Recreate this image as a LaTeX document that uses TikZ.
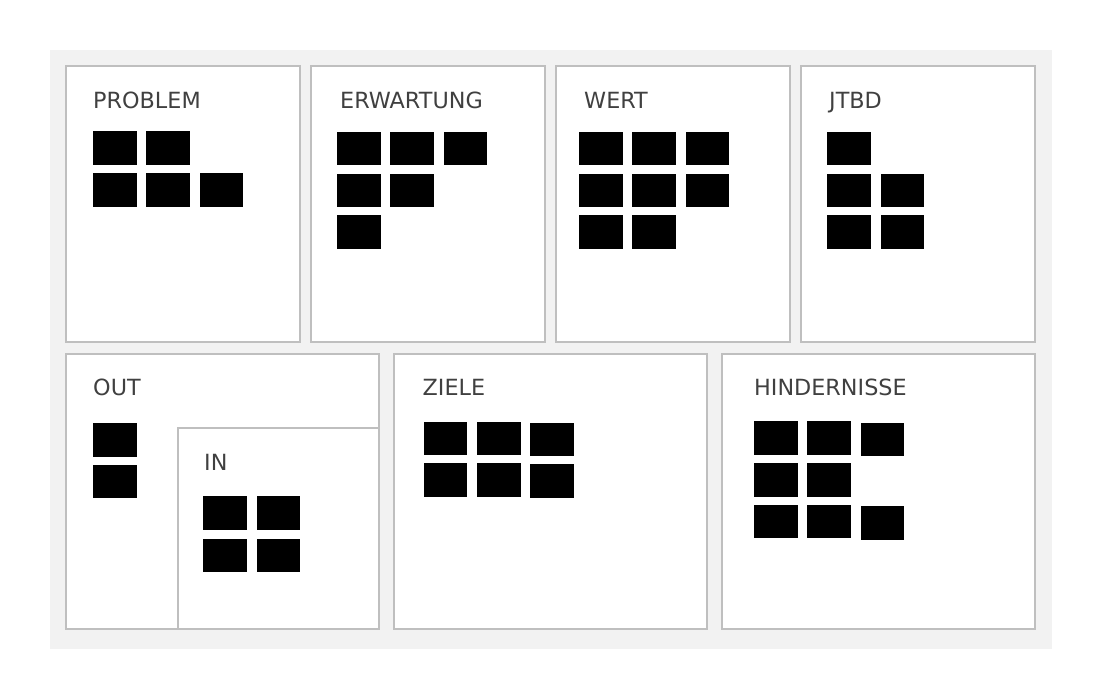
\documentclass[tikz,border=0pt]{standalone}
\usepackage{fontspec}
\setmainfont{DejaVu Sans}
\begin{document}
\begin{tikzpicture}[x=1pt,y=-1pt,
  panel/.style={draw=black!25,line width=1.4pt,fill=white},
  lbl/.style={anchor=base west,inner sep=0pt,text=black!75,font=\fontsize{22.3}{24}\selectfont},
  sq/.style={anchor=north west,fill=black,draw=none,inner sep=0pt,minimum width=43.5pt,minimum height=33.5pt}]
\useasboundingbox (0,0) rectangle (1104,700);
\fill[white] (0,0) rectangle (1104,700);
\fill[black!5] (50,50) rectangle (1052,649);
% top row panels
\draw[panel] (66,66) rectangle (300,342);
\draw[panel] (311,66) rectangle (545,342);
\draw[panel] (556,66) rectangle (790,342);
\draw[panel] (801,66) rectangle (1035,342);
% bottom row panels
\draw[panel] (66,354) rectangle (379,629);
\draw[panel] (178,428) rectangle (379,629);
\draw[panel] (394,354) rectangle (707,629);
\draw[panel] (722,354) rectangle (1035,629);
% labels
\node[lbl] (lp) at (93,108.3) {PROBLEM};
\node[lbl] (le) at (340,108.3) {ERWARTUNG};
\node[lbl] (lw) at (584,108.3) {WERT};
\node[lbl] (lj) at (829,108.3) {JTBD};
\node[lbl] (lo) at (93,395.5) {OUT};
\node[lbl] (li) at (204,471) {IN};
\node[lbl] (lz) at (422.5,395.5) {ZIELE};
\node[lbl] (lh) at (754,395.5) {HINDERNISSE};
% PROBLEM
\node[sq] (p1) at (93,131) {};
\node[sq] (p2) at (146,131) {};
\node[sq] (p3) at (93,173) {};
\node[sq] (p4) at (146,173) {};
\node[sq] (p5) at (199.5,173) {};
% ERWARTUNG
\node[sq] (e1) at (337,131.5) {};
\node[sq] (e2) at (390,131.5) {};
\node[sq] (e3) at (443.5,131.5) {};
\node[sq] (e4) at (337,173.5) {};
\node[sq] (e5) at (390,173.5) {};
\node[sq] (e6) at (337,215) {};
% WERT
\node[sq] (w1) at (579,131.5) {};
\node[sq] (w2) at (632,131.5) {};
\node[sq] (w3) at (685.5,131.5) {};
\node[sq] (w4) at (579,173.5) {};
\node[sq] (w5) at (632,173.5) {};
\node[sq] (w6) at (685.5,173.5) {};
\node[sq] (w7) at (579,215) {};
\node[sq] (w8) at (632,215) {};
% JTBD
\node[sq] (j1) at (827,131.5) {};
\node[sq] (j2) at (827,173.5) {};
\node[sq] (j3) at (880.5,173.5) {};
\node[sq] (j4) at (827,215) {};
\node[sq] (j5) at (880.5,215) {};
% OUT
\node[sq] (o1) at (93,423) {};
\node[sq] (o2) at (93,464.5) {};
% IN
\node[sq] (i1) at (203,496) {};
\node[sq] (i2) at (256.5,496) {};
\node[sq] (i3) at (203,538.5) {};
\node[sq] (i4) at (256.5,538.5) {};
% ZIELE
\node[sq] (z1) at (423.5,421.5) {};
\node[sq] (z2) at (477,421.5) {};
\node[sq] (z3) at (530,422.5) {};
\node[sq] (z4) at (423.5,463) {};
\node[sq] (z5) at (477,463) {};
\node[sq] (z6) at (530,464) {};
% HINDERNISSE
\node[sq] (h1) at (754,421) {};
\node[sq] (h2) at (807,421) {};
\node[sq] (h3) at (860.5,422.5) {};
\node[sq] (h4) at (754,463) {};
\node[sq] (h5) at (807,463) {};
\node[sq] (h6) at (754,504.5) {};
\node[sq] (h7) at (807,504.5) {};
\node[sq] (h8) at (860.5,506) {};
\end{tikzpicture}
\end{document}
